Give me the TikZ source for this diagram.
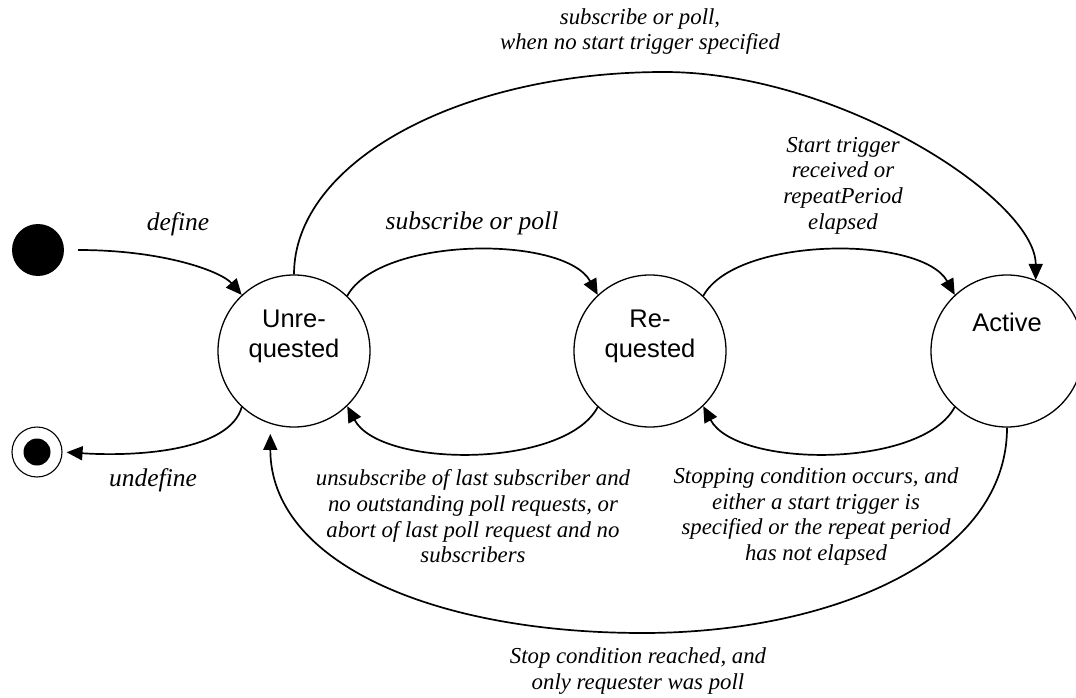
\documentclass[tikz,border=0pt]{standalone}
\usepackage{fontspec}
\setmainfont{Liberation Serif}
\setsansfont{Liberation Sans}
\usetikzlibrary{arrows.meta}
\begin{document}
\begin{tikzpicture}[x=1pt,y=-1pt,
  state/.style={circle,draw,line width=1.3pt,minimum size=152pt,inner sep=0pt},
  statetxt/.style={font=\sffamily\fontsize{25.5}{29.5}\selectfont,align=center,inner sep=0pt},
  lbl/.style={font=\itshape\fontsize{22.8}{25.7}\selectfont,align=center,inner sep=0pt},
  biglbl/.style={font=\itshape\fontsize{25.5}{29}\selectfont,inner sep=0pt},
  arr/.style={line width=1.7pt,-{Triangle[length=16pt,width=14pt]}}]
\useasboundingbox (0,0) rectangle (1076,698);

% initial and final pseudo-states
\node[circle,fill=black,minimum size=52pt,inner sep=0pt] (S) at (38,250) {};
\node[circle,draw,line width=1.1pt,minimum size=50pt,inner sep=0pt] (E) at (37,452) {};
\node[circle,fill=black,minimum size=27pt,inner sep=0pt] (Ein) at (E) {};

% states
\node[state] (U) at (294,351) {};
\node[state] (R) at (650,351) {};
\node[state] (A) at (1007,351) {};
\node[statetxt] (Ut) at ([yshift=14.5pt]U.center) {Unre-\\quested};
\node[statetxt] (Rt) at ([yshift=14.5pt]R.center) {Re-\\quested};
\node[statetxt] (At) at ([yshift=29pt]A.center) {Active};

% waypoints of the long arcs
\coordinate (top) at (664,72);
\coordinate (bot) at (643,633);

% transitions
\draw[arr,shorten <=14pt] (S.east) .. controls +(101,0) and +(-20,-23) .. (U.133);
\draw[arr,shorten >=4pt] (U.-133) .. controls +(-12,43) and +(78,5) .. (E.east);
\draw[arr] (U.46) .. controls +(33,-60) and +(-33,-60) .. (R.133);
\draw[arr] (R.-133) .. controls +(-33,62) and +(33,62) .. (U.-46);
\draw[arr] (R.46) .. controls +(33,-60) and +(-33,-60) .. (A.133);
\draw[arr] (A.-133) .. controls +(-33,62) and +(33,62) .. (R.-46);
\draw[arr] (U.90) .. controls +(0,-112) and +(-205,0) .. (top)
  .. controls +(176,0) and +(0,-80) .. (A.68);
\draw[arr,shorten >=10pt] (A.-90) .. controls +(0,132) and +(187,0) .. (bot)
  .. controls +(-213,0) and +(0,137) .. (U.-108);

% transition labels
\node[biglbl] (ldef) at (178,224) {define};
\node[biglbl] (lundef) at (153,480) {undefine};
\node[biglbl] (lsub) at (472,223) {subscribe or poll};
\node[lbl] (ltop) at (640,31.5) {subscribe or poll,\\when no start trigger specified};
\node[lbl] (lstart) at (843,185.5) {Start trigger\\received or\\repeatPeriod\\elapsed};
\node[lbl] (lunsub) at (473,516.5) {unsubscribe of last subscriber and\\no outstanding poll requests, or\\abort of last poll request and no\\subscribers};
\node[lbl] (lstopping) at (816,516.5) {Stopping condition occurs, and\\either a start trigger is\\specified or the repeat period\\has not elapsed};
\node[lbl] (lstop) at (638,671) {Stop condition reached, and\\only requester was poll};
\end{tikzpicture}
\end{document}
